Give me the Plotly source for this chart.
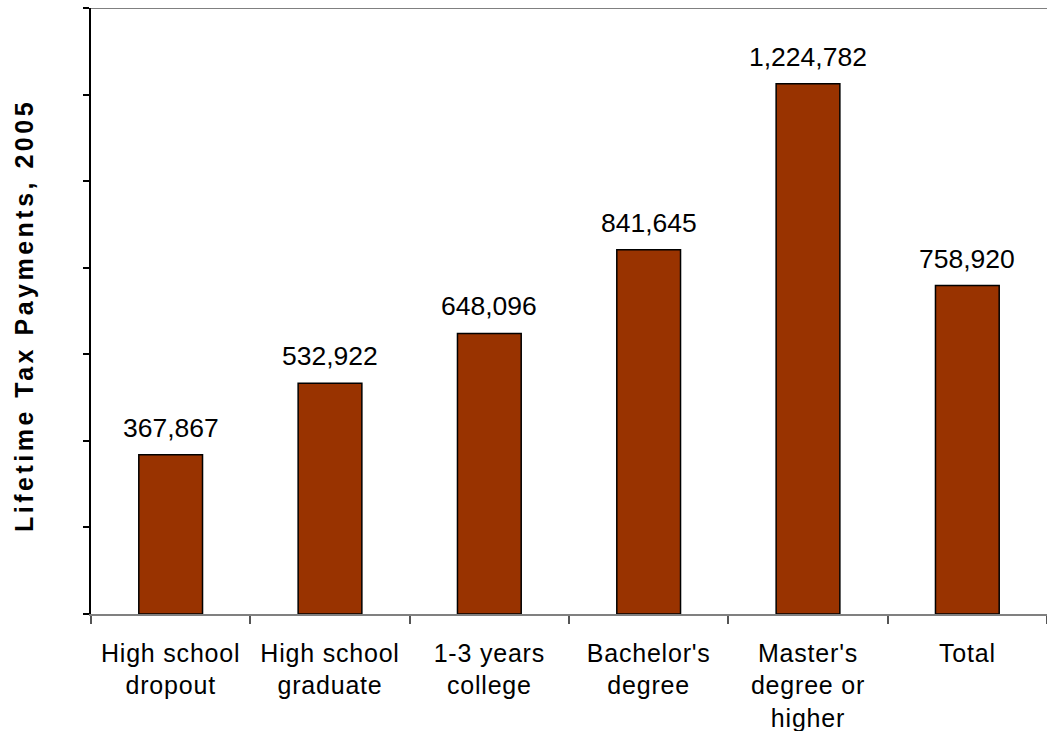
import plotly.graph_objects as go

categories = ["High school<br>dropout", "High school<br>graduate", "1-3 years<br>college",
              "Bachelor's<br>degree", "Master's<br>degree or<br>higher", "Total"]
values = [367867, 532922, 648096, 841645, 1224782, 758920]
value_labels = ["367,867", "532,922", "648,096", "841,645", "1,224,782", "758,920"]
y_title = "Lifetime Tax Payments, 2005"

FONT = "Arial, Liberation Sans, sans-serif"

fig = go.Figure()
fig.add_trace(go.Bar(
    x=categories, y=values,
    marker=dict(color="#993300", line=dict(color="black", width=1.5)),
    width=0.4,
    showlegend=False,
    hoverinfo="skip",
))

for c, v, t in zip(categories, values, value_labels):
    fig.add_annotation(x=c, y=v, text=t, showarrow=False, yanchor="bottom",
                       yshift=10, font=dict(family=FONT, size=26.5, color="black"))

# rotated y-axis title
fig.add_annotation(xref="paper", yref="paper", x=0, y=0.5, xanchor="center", yanchor="middle",
                   xshift=-67, yshift=-5, textangle=-90, showarrow=False,
                   text='<b><span style="letter-spacing:3.5px">' + y_title + '</span></b>',
                   font=dict(family=FONT, size=25, color="black"))

fig.add_shape(type="line", xref="paper", yref="y", x0=0, x1=1, y0=1400000, y1=1400000,
              line=dict(color="#808080", width=2))

tick_text = ['<span style="letter-spacing:0.8px">' + c + '</span>' for c in categories]

fig.update_layout(
    width=1047, height=731,
    margin=dict(l=91, r=0, t=8, b=117),
    plot_bgcolor="white", paper_bgcolor="white",
    font=dict(family=FONT, color="black"),
    xaxis=dict(
        type="category", automargin=False,
        showline=True, linecolor="#808080", linewidth=1.5,
        ticks="outside", tickson="boundaries", ticklen=8, tickcolor="#555555", tickwidth=1.5,
        tickvals=categories, ticktext=tick_text,
        tickfont=dict(family=FONT, size=25, color="black"),
        ticklabelstandoff=16,
        showgrid=False, zeroline=False,
    ),
    yaxis=dict(
        range=[0, 1400000], dtick=200000, automargin=False,
        showline=True, linecolor="black", linewidth=1.5,
        ticks="outside", ticklen=6, tickcolor="black", tickwidth=1.5,
        showticklabels=False, showgrid=False, zeroline=False,
    ),
)

fig.write_html("out.html")
